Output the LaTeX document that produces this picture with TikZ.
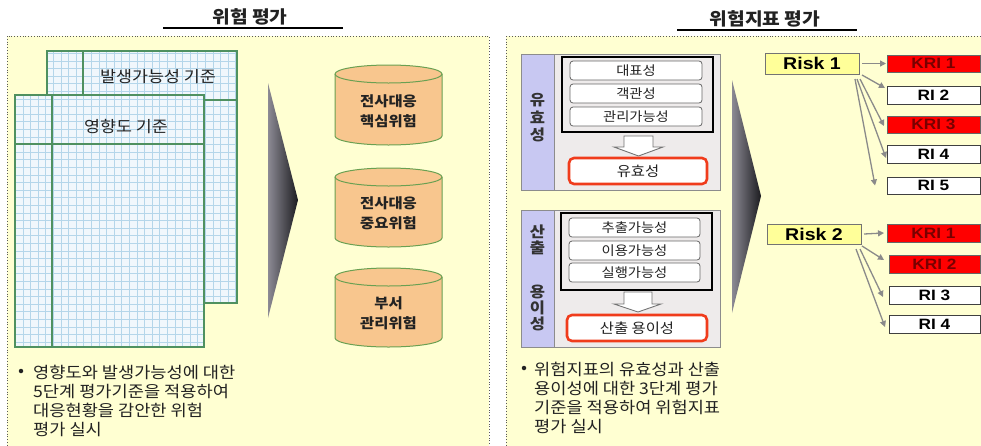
\documentclass[tikz,border=0pt]{standalone}
\usepackage{fontspec}
\setmainfont{Noto Sans CJK KR}[FakeStretch=1.1]
\newfontfamily\latinfont{Liberation Sans}[FakeStretch=1.15]
\usetikzlibrary{arrows.meta}
\definecolor{panelbg}{HTML}{FFFFD2}
\definecolor{sheetbg}{HTML}{F0F7FC}
\definecolor{gridblue}{HTML}{B4D6EA}
\definecolor{sheetgreen}{HTML}{4F9160}
\definecolor{cylfill}{HTML}{F8C68E}
\definecolor{cylgreen}{HTML}{6AA052}
\definecolor{trilight}{HTML}{8C8A94}
\definecolor{tridark}{HTML}{1C1C20}
\definecolor{grpbg}{HTML}{EEEBEB}
\definecolor{stripbg}{HTML}{C8C8F2}
\definecolor{redline}{HTML}{F03C1C}
\definecolor{riskbg}{HTML}{FFFF99}
\definecolor{kritext}{HTML}{780000}
\definecolor{arrowgray}{HTML}{8A8A8A}
\definecolor{txt}{HTML}{222222}
\newcommand{\boxat}[7]{\node[#2,anchor=north west,inner sep=0pt,outer sep=0pt,minimum width={(#5-#3)*1pt},minimum height={(#6-#4)*1pt}] (#1) at (#3,#4) {#7};}
\newcommand{\mycylinder}[2]{%
  \filldraw[cylshape] (335,{#1+9}) -- (335,{#2-9}) arc[start angle=180,end angle=360,x radius=53.5pt,y radius=9pt] -- (442,{#1+9}) arc[start angle=0,end angle=180,x radius=53.5pt,y radius=9pt] -- cycle;
  \draw[cylshape,fill=none] (335,{#1+9}) arc[start angle=180,end angle=360,x radius=53.5pt,y radius=9pt];}
\tikzset{
  panel/.style={draw=black!65, dotted, fill=panelbg, line width=0.8pt},
  ttl/.style={font=\fontsize{17.5}{19}\selectfont\bfseries, text=txt, inner sep=0pt},
  sheetlbl/.style={font=\fontsize{15.8}{17}\selectfont, text=txt, inner sep=0pt},
  sheetline/.style={draw=sheetgreen, line width=1.1pt},
  gridline/.style={draw=gridblue, line width=0.45pt},
  cylshape/.style={draw=cylgreen, fill=cylfill, line width=1pt},
  cyltext/.style={font=\fontsize{14}{20}\selectfont\bfseries, align=center, text=txt, inner sep=0pt},
  bodytext/.style={font=\fontsize{16}{19}\selectfont, align=left, anchor=west, inner sep=0pt, text=txt},
  bulletdot/.style={circle, fill=txt, inner sep=0pt, minimum size=4.5pt},
  grpbox/.style={draw=black!45, fill=grpbg, line width=0.9pt},
  stripbox/.style={draw=black!45, fill=stripbg, line width=0.9pt},
  innerbox/.style={draw=black, line width=2.2pt},
  sidelbl/.style={font=\fontsize{15}{17.5}\selectfont\bfseries, align=center, text=black!80, inner sep=0pt},
  critbox/.style={draw=black!60, fill=white, rounded corners=3pt, line width=0.8pt, font=\fontsize{13}{14}\selectfont, text=txt},
  redbox/.style={draw=redline, fill=white, rounded corners=5pt, line width=2.6pt, font=\fontsize{14}{15}\selectfont, text=txt},
  downarr/.style={draw=black!55, fill=white, line width=0.9pt},
  riskbox/.style={draw=black!55, fill=riskbg, line width=0.9pt, font={\latinfont\fontsize{17}{18}\selectfont\bfseries}, text=black},
  kribox/.style={draw=black!60, fill=red, line width=0.9pt, font={\latinfont\fontsize{15}{16}\selectfont\bfseries}, text=kritext},
  ribox/.style={draw=black!75, fill=white, line width=0.9pt, font={\latinfont\fontsize{15}{16}\selectfont\bfseries}, text=black},
  rarr/.style={draw=arrowgray, line width=1.3pt, -{Triangle[length=6pt,width=6pt]}},
}
\begin{document}
\begin{tikzpicture}[x=1pt,y=-1pt]
\useasboundingbox (0,0) rectangle (981,445);
\fill[white] (0,0) rectangle (981,445);
% panels
\draw[panel] (7,36) rectangle (489,447);
\draw[panel] (506,36) rectangle (986,447);
% titles
\node[ttl] (t1) at (250,17) {위험 평가};
\draw[line width=2pt] (163,27.5) -- (343,27.5);
\node[ttl] (t2) at (765,19) {위험지표 평가};
\draw[line width=2pt] (677,30) -- (857,30);
% back sheet
\fill[sheetbg] (47,51) rectangle (237,303);
\draw[gridline, step=7.6pt] (47,51) grid (237,303);
\draw[sheetline] (47,51) rectangle (237,303) (47,100) -- (237,100) (83,51) -- (83,303);
\node[sheetlbl] (s1) at (158,77) {발생가능성 기준};
% front sheet
\fill[sheetbg] (15,95) rectangle (204,347);
\draw[gridline, step=7.6pt] (15,95) grid (204,347);
\draw[sheetline] (15,95) rectangle (204,347) (15,144) -- (204,144) (52,95) -- (52,347);
\node[sheetlbl] (s2) at (126,127) {영향도 기준};
% big arrow left
\shade[left color=trilight, right color=tridark] (268,83) -- (298,200) -- (268,318) -- cycle;
% cylinders
\mycylinder{65}{145}
\node[cyltext] (c1) at (388.5,111) {전사대응\\핵심위험};
\mycylinder{168}{247}
\node[cyltext] (c2) at (388.5,213) {전사대응\\중요위험};
\mycylinder{268}{347}
\node[cyltext] (c3) at (388.5,313) {부서\\관리위험};
% left bottom text
\node[bulletdot] (lb) at (21,371) {};
\node[bodytext] (lt) at (33,400.5) {영향도와 발생가능성에 대한\\5단계 평가기준을 적용하여\\대응현황을 감안한 위험\\평가 실시};
% group 1
\draw[grpbox] (521,54) rectangle (720,190);
\draw[stripbox] (521,54) rectangle (554,190);
\draw[innerbox] (562,57) rectangle (713,132);
\node[sidelbl] (g1l) at (537.5,118) {유\\효\\성};
\boxat{g1a}{critbox}{570}{61}{702}{80}{대표성}
\boxat{g1b}{critbox}{570}{84}{702}{103}{객관성}
\boxat{g1c}{critbox}{570}{107}{702}{126}{관리가능성}
\draw[downarr] (624,136) -- (653,136) -- (653,147) -- (663,147) -- (638.5,156) -- (614,147) -- (624,147) -- cycle;
\boxat{g1r}{redbox}{569}{158}{707}{184}{유효성}
% group 2
\draw[grpbox] (521,210) rectangle (720,347);
\draw[stripbox] (521,210) rectangle (554,347);
\draw[innerbox] (561,213) rectangle (712,290);
\node[sidelbl, font=\fontsize{15}{16.5}\selectfont\bfseries] (g2l1) at (537.5,240) {산\\출};
\node[sidelbl, font=\fontsize{15}{16}\selectfont\bfseries] (g2l2) at (537.5,308) {용\\이\\성};
\boxat{g2a}{critbox}{569}{218}{700}{237}{추출가능성}
\boxat{g2b}{critbox}{569}{241}{700}{260}{이용가능성}
\boxat{g2c}{critbox}{569}{263}{700}{282}{실행가능성}
\draw[downarr] (624,292) -- (652,292) -- (652,304) -- (661,304) -- (638,312) -- (614,304) -- (624,304) -- cycle;
\boxat{g2r}{redbox}{567}{315}{707}{341}{산출 용이성}
% right bottom text
\node[bulletdot] (rb) at (524,368) {};
\node[bodytext] (rt) at (534,398) {위험지표의 유효성과 산출\\용이성에 대한 3단계 평가\\기준을 적용하여 위험지표\\평가 실시};
% big arrow right
\shade[left color=trilight, right color=tridark] (732,80) -- (761,196) -- (732,313) -- cycle;
% risk 1
\boxat{r1}{riskbox}{765}{53}{859}{74}{Risk 1}
\boxat{k11}{kribox}{887}{55}{980}{72}{KRI 1}
\boxat{ri12}{ribox}{887}{86}{980}{104}{RI 2}
\boxat{k13}{kribox}{887}{116}{980}{133}{KRI 3}
\boxat{ri14}{ribox}{887}{145}{980}{163}{RI 4}
\boxat{ri15}{ribox}{887}{177}{980}{194}{RI 5}
\draw[rarr] ([xshift=3pt]r1.east) -- ([xshift=-1pt]k11.west);
\draw[rarr] ([shift={(3pt,-1pt)}]r1.south east) -- ([shift={(-2pt,-2pt)}]ri12.north west);
\draw[rarr] ([shift={(1pt,-5pt)}]r1.south east) -- ([shift={(-3pt,-1.5pt)}]k13.west);
\draw[rarr] ([shift={(-2pt,-5pt)}]r1.south east) -- ([shift={(-1pt,-4pt)}]ri14.west);
\draw[rarr] ([shift={(-4pt,-5pt)}]r1.south east) -- ([shift={(-12pt,0pt)}]ri15.west);
% risk 2
\boxat{r2}{riskbox}{767}{224}{861}{244}{Risk 2}
\boxat{k21}{kribox}{887}{224}{980}{242}{KRI 1}
\boxat{k22}{kribox}{889}{255}{980}{273}{KRI 2}
\boxat{ri23}{ribox}{889}{286}{980}{304}{RI 3}
\boxat{ri24}{ribox}{889}{315}{980}{333}{RI 4}
\draw[rarr] ([xshift=3pt]r2.east) -- ([xshift=-3pt]k21.west);
\draw[rarr] ([shift={(1pt,-2pt)}]r2.south east) -- ([shift={(-5pt,4pt)}]k22.west);
\draw[rarr] ([shift={(-1pt,-5pt)}]r2.south east) -- ([shift={(-6pt,-2pt)}]ri23.west);
\draw[rarr] ([shift={(-5pt,-5pt)}]r2.south east) -- ([shift={(-4pt,-3pt)}]ri24.west);
\end{tikzpicture}
\end{document}
